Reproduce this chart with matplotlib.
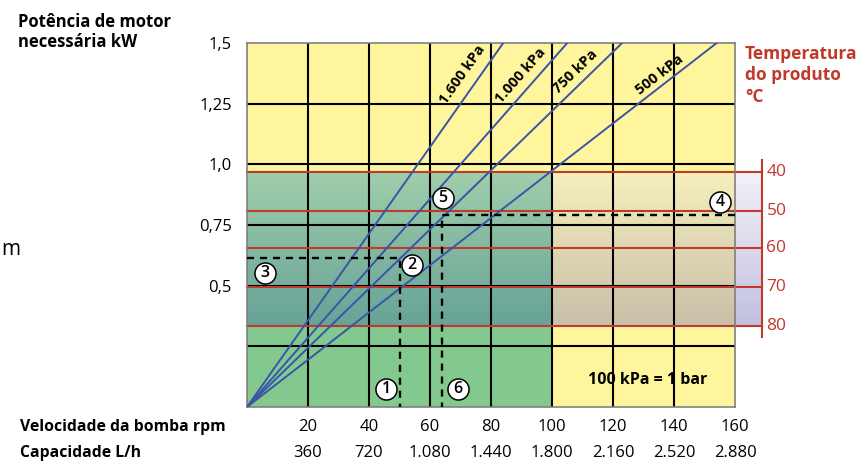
import numpy as np
import matplotlib.pyplot as plt
from matplotlib.transforms import blended_transform_factory

plt.rcParams['font.family'] = ['Open Sans', 'DejaVu Sans']

# axis values
rpm_ticks = [20, 40, 60, 80, 100, 120, 140, 160]
capacity_labels = ['360', '720', '1.080', '1.440', '1.800', '2.160', '2.520', '2.880']
power_grid = [0.25, 0.5, 0.75, 1.0, 1.25]
power_ticks = [0.5, 0.75, 1.0, 1.25, 1.5]
power_labels = ['0,5', '0,75', '1,0', '1,25', '1,5']

# pressure lines from the origin: rpm where each reaches 1.5 kW
pressure_labels = ['1.600 kPa', '1.000 kPa', '750 kPa', '500 kPa']
pressure_rpm_top = [84, 105, 123, 154]
pressure_label_pos = [(70.5, 1.368), (89.8, 1.364), (107.5, 1.38), (135.4, 1.368)]

# product temperature lines
temps = [40, 50, 60, 70, 80]
temp_power = [0.97, 0.809, 0.656, 0.496, 0.335]

# dashed reading guides (rpm, kW)
guide_a = (50, 0.614)
guide_b = (64, 0.791)

# circled numbers
marker_text = ['1', '2', '3', '4', '5', '6']
marker_rpm = [45.6, 54, 5.9, 155, 64.3, 69.2]
marker_kw = [0.074, 0.585, 0.552, 0.845, 0.861, 0.074]

YELLOW = '#fff59d'
GREEN = '#83c98f'
RED = '#c0392b'
BLUE = '#3a55a8'


def gradient(ax, x0, x1, y0, y1, top, bottom):
    top = np.array(plt.matplotlib.colors.to_rgb(top))
    bottom = np.array(plt.matplotlib.colors.to_rgb(bottom))
    t = np.linspace(0, 1, 100)[:, None]
    img = (top * (1 - t) + bottom * t)[:, None, :]
    im = ax.imshow(img, extent=(x0, x1, y0, y1), origin='upper', aspect='auto', zorder=0.5)
    im.set_clip_on(False)


fig = plt.figure(figsize=(8.63, 4.66), dpi=100)
ax = fig.add_axes([247 / 863, 59 / 466, 488 / 863, 364 / 466])
ax.set_facecolor(YELLOW)

lo, hi = temp_power[-1], temp_power[0]
ax.fill_between([0, 100], 0, hi, color=GREEN, zorder=0.3, lw=0)
gradient(ax, 0, 100, lo, hi, '#9fceab', '#67a397')
gradient(ax, 100, 160, lo, hi, '#f6efbc', '#c8bfa8')
gradient(ax, 160, 168.9, lo, hi, '#f3f2f8', '#c2c0e0')

for x in rpm_ticks[:-1]:
    ax.axvline(x, color='black', lw=1.5, zorder=1)
for y in power_grid:
    ax.axhline(y, color='black', lw=1.5, zorder=1)

for p in temp_power:
    ax.plot([0, 168.9], [p, p], color=RED, lw=1.5, zorder=2, clip_on=False)
ax.plot([168.9, 168.9], [1.018, 0.288], color=RED, lw=1.5, zorder=2, clip_on=False)
for t, p in zip(temps, temp_power):
    ax.text(170.3, p, str(t), color=RED, fontsize=12.5, va='center', ha='left')

ax.set_xlim(0, 160)
ax.set_ylim(0, 1.5)

for top_rpm, label, (lx, ly) in zip(pressure_rpm_top, pressure_labels, pressure_label_pos):
    ax.plot([0, top_rpm], [0, 1.5], color=BLUE, lw=1.4, zorder=3)
    p0 = ax.transData.transform((0, 0))
    p1 = ax.transData.transform((top_rpm, 1.5))
    ang = np.degrees(np.arctan2(p1[1] - p0[1], p1[0] - p0[0]))
    ax.text(lx, ly, label, rotation=ang, rotation_mode='anchor', ha='center', va='center',
            fontsize=10.5, fontweight='bold', zorder=4)

ax.plot([0, guide_a[0], guide_a[0]], [guide_a[1], guide_a[1], 0], 'k--', lw=1.7,
        dashes=(3, 2.5), zorder=3)
ax.plot([160, guide_b[0], guide_b[0]], [guide_b[1], guide_b[1], 0], 'k--', lw=1.7,
        dashes=(3, 2.5), zorder=3)

ax.scatter(marker_rpm, marker_kw, s=230, facecolor='white', edgecolor='black', lw=1.1, zorder=5)
for t, x, y in zip(marker_text, marker_rpm, marker_kw):
    ax.text(x, y, t, ha='center', va='center', fontsize=11.5, fontweight='semibold', zorder=6)

ax.text(131.5, 0.111, '100 kPa = 1 bar', ha='center', va='center', fontsize=11.5,
        fontweight='bold', zorder=4)

ax.set_yticks(power_ticks)
ax.set_yticklabels(power_labels, fontsize=12)
ax.set_xticks([])
ax.tick_params(axis='y', length=0, pad=11)
for s in ax.spines.values():
    s.set_color('#808080')
    s.set_linewidth(1.2)

tr = blended_transform_factory(ax.transData, fig.transFigure)
for x, cap in zip(rpm_ticks, capacity_labels):
    fig.text(x, 1 - 427 / 466, str(x), transform=tr, ha='center', va='center', fontsize=12)
    fig.text(x, 1 - 453 / 466, cap, transform=tr, ha='center', va='center', fontsize=12)
fig.text(20 / 863, 1 - 427 / 466, 'Velocidade da bomba rpm', ha='left', va='center',
         fontsize=11.3, fontweight='bold')
fig.text(20 / 863, 1 - 453 / 466, 'Capacidade L/h', ha='left', va='center',
         fontsize=11.3, fontweight='bold')

fig.text(18 / 863, 1 - 13 / 466, 'Potência de motor\nnecessária kW', ha='left', va='top',
         fontsize=12, fontweight='bold', linespacing=1.15)
fig.text(745 / 863, 1 - 45 / 466, 'Temperatura\ndo produto\n°C', ha='left', va='top',
         fontsize=12.5, fontweight='bold', color=RED, linespacing=1.25)
fig.text(0.002, 1 - 250 / 466, 'm', ha='left', va='center', fontsize=15)

fig.savefig('out.png', dpi=100)
